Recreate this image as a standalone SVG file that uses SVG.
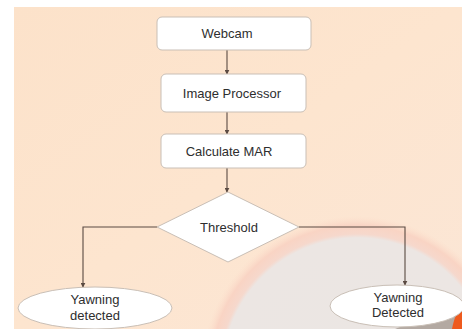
<svg xmlns="http://www.w3.org/2000/svg" width="462" height="329" viewBox="0 0 462 329">
  <defs>
    <linearGradient id="bg" x1="0" y1="0" x2="1" y2="1">
      <stop offset="0" stop-color="#fce2ca"/>
      <stop offset="0.5" stop-color="#fde5cf"/>
      <stop offset="1" stop-color="#fbe6d6"/>
    </linearGradient>
    <radialGradient id="ring" cx="357" cy="372" r="156" gradientUnits="userSpaceOnUse">
      <stop offset="0" stop-color="#ebe6e3"/>
      <stop offset="0.86" stop-color="#ece6e3"/>
      <stop offset="0.885" stop-color="#f6d8cc"/>
      <stop offset="0.94" stop-color="#f9d4c4"/>
      <stop offset="1" stop-color="#fcdfcc" stop-opacity="0"/>
    </radialGradient>
    <marker id="arr" viewBox="0 0 8 8" refX="7" refY="4" markerWidth="5" markerHeight="5" orient="auto" markerUnits="userSpaceOnUse">
      <path d="M0,0 L8,4 L0,8 Z" fill="#5a4a42"/>
    </marker>
    <style>
      .box { fill: #ffffff; stroke: #c9bfb6; stroke-width: 1; }
      .lbl { font-family: "Liberation Sans", Arial, sans-serif; font-size: 13px; fill: #2e2e2e; text-anchor: middle; }
      .conn { fill: none; stroke: #5a4a42; stroke-width: 1.1; }
    </style>
  </defs>

  <rect x="0" y="0" width="462" height="329" fill="#ffffff"/>
  <rect x="14" y="7" width="448" height="322" fill="url(#bg)"/>
  <!-- background decoration -->
  <circle cx="357" cy="372" r="156" fill="url(#ring)"/>
  <path d="M395,329 L420,319 L462,313 L462,329 Z" fill="#b3a9a2"/>
  <path d="M452,329 C454,318 458,310 462,304 L462,329 Z" fill="#ee5a1e"/>

  <g id="connectors">
    <line class="conn" x1="227" y1="50" x2="227" y2="74" marker-end="url(#arr)"/>
    <line class="conn" x1="227" y1="112" x2="227" y2="134" marker-end="url(#arr)"/>
    <line class="conn" x1="227" y1="168" x2="227" y2="192" marker-end="url(#arr)"/>
    <polyline class="conn" points="157,227 83,227 83,287" marker-end="url(#arr)"/>
    <polyline class="conn" points="299,227 405,227 405,285" marker-end="url(#arr)"/>
  </g>

  <g id="webcam">
    <rect class="box" x="157" y="17" width="154" height="33" rx="5"/>
    <text class="lbl" x="227" y="38">Webcam</text>
  </g>
  <g id="image-processor">
    <rect class="box" x="161" y="74" width="145" height="38" rx="5"/>
    <text class="lbl" x="232" y="98">Image Processor</text>
  </g>
  <g id="calculate-mar">
    <rect class="box" x="161" y="134" width="145" height="34" rx="5"/>
    <text class="lbl" x="229" y="156">Calculate MAR</text>
  </g>
  <g id="threshold">
    <polygon class="box" points="228,192 299,227 228,262 157,227"/>
    <text class="lbl" x="229" y="232">Threshold</text>
  </g>
  <g id="yawning-detected-left">
    <ellipse class="box" cx="95" cy="308" rx="77" ry="21"/>
    <text class="lbl" x="95" y="304">Yawning</text>
    <text class="lbl" x="95" y="320">detected</text>
  </g>
  <g id="yawning-detected-right">
    <ellipse class="box" cx="397" cy="306" rx="67" ry="21"/>
    <text class="lbl" x="398" y="302">Yawning</text>
    <text class="lbl" x="398" y="317">Detected</text>
  </g>
</svg>
